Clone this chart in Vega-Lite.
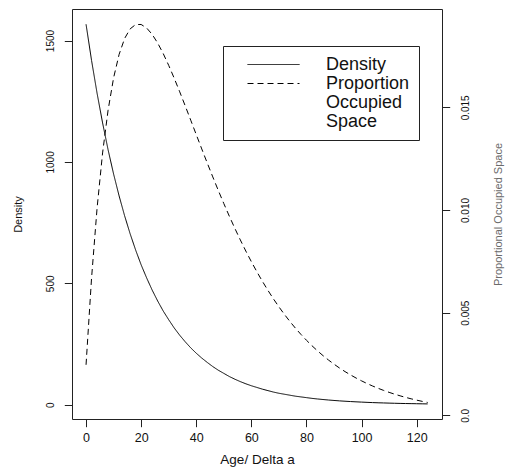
{
  "$schema": "https://vega.github.io/schema/vega-lite/v6.json",
  "width": 370,
  "height": 410,
  "autosize": {"type": "none"},
  "padding": {"left": 72, "top": 9, "right": 64, "bottom": 49},
  "background": "white",
  "config": {
    "font": "Liberation Sans",
    "view": {"stroke": "#222", "strokeWidth": 1},
    "axis": {"grid": false, "domain": false, "tickColor": "#222", "tickSize": 7.7, "tickWidth": 1, "labelColor": "#111", "titleColor": "#111", "titleFontWeight": "normal", "labelFlush": false, "labelOverlap": false},
    "style": {"guide-label": {"lineHeight": 19}}
  },
  "data": {"values": [
    {"age": 0, "density": 1567, "prop": 0.00246},
    {"age": 2, "density": 1418, "prop": 0.006689},
    {"age": 4, "density": 1283, "prop": 0.010087},
    {"age": 6, "density": 1161, "prop": 0.012778},
    {"age": 8, "density": 1050, "prop": 0.014865},
    {"age": 10, "density": 950, "prop": 0.016439},
    {"age": 12, "density": 860, "prop": 0.01758},
    {"age": 14, "density": 778, "prop": 0.018354},
    {"age": 16, "density": 704, "prop": 0.018821},
    {"age": 18, "density": 637, "prop": 0.019034},
    {"age": 20, "density": 576, "prop": 0.019036},
    {"age": 22, "density": 522, "prop": 0.018864},
    {"age": 24, "density": 472, "prop": 0.018554},
    {"age": 26, "density": 427, "prop": 0.018131},
    {"age": 28, "density": 386, "prop": 0.017621},
    {"age": 30, "density": 350, "prop": 0.017044},
    {"age": 32, "density": 316, "prop": 0.016417},
    {"age": 34, "density": 286, "prop": 0.015755},
    {"age": 36, "density": 259, "prop": 0.01507},
    {"age": 38, "density": 234, "prop": 0.014373},
    {"age": 40, "density": 212, "prop": 0.013672},
    {"age": 42, "density": 192, "prop": 0.012974},
    {"age": 44, "density": 174, "prop": 0.012286},
    {"age": 46, "density": 157, "prop": 0.011611},
    {"age": 48, "density": 142, "prop": 0.010953},
    {"age": 50, "density": 129, "prop": 0.010315},
    {"age": 52, "density": 116, "prop": 0.0097},
    {"age": 54, "density": 105, "prop": 0.009108},
    {"age": 56, "density": 95, "prop": 0.008541},
    {"age": 58, "density": 86, "prop": 0.007999},
    {"age": 60, "density": 78, "prop": 0.007483},
    {"age": 62, "density": 71, "prop": 0.006993},
    {"age": 64, "density": 64, "prop": 0.006528},
    {"age": 66, "density": 58, "prop": 0.006089},
    {"age": 68, "density": 52, "prop": 0.005674},
    {"age": 70, "density": 47, "prop": 0.005283},
    {"age": 72, "density": 43, "prop": 0.004915},
    {"age": 74, "density": 39, "prop": 0.004569},
    {"age": 76, "density": 35, "prop": 0.004244},
    {"age": 78, "density": 32, "prop": 0.00394},
    {"age": 80, "density": 29, "prop": 0.003656},
    {"age": 82, "density": 26, "prop": 0.003389},
    {"age": 84, "density": 23.5, "prop": 0.003141},
    {"age": 86, "density": 21.3, "prop": 0.002909},
    {"age": 88, "density": 19.2, "prop": 0.002692},
    {"age": 90, "density": 17.4, "prop": 0.002491},
    {"age": 92, "density": 15.7, "prop": 0.002303},
    {"age": 94, "density": 14.2, "prop": 0.002129},
    {"age": 96, "density": 12.9, "prop": 0.001967},
    {"age": 98, "density": 11.7, "prop": 0.001817},
    {"age": 100, "density": 10.6, "prop": 0.001677},
    {"age": 102, "density": 9.6, "prop": 0.001547},
    {"age": 104, "density": 8.6, "prop": 0.001427},
    {"age": 106, "density": 7.8, "prop": 0.001316},
    {"age": 108, "density": 7.1, "prop": 0.001213},
    {"age": 110, "density": 6.4, "prop": 0.001118},
    {"age": 112, "density": 5.8, "prop": 0.00103},
    {"age": 114, "density": 5.2, "prop": 0.000948},
    {"age": 116, "density": 4.7, "prop": 0.000873},
    {"age": 118, "density": 4.3, "prop": 0.000803},
    {"age": 120, "density": 3.9, "prop": 0.000739},
    {"age": 122, "density": 3.5, "prop": 0.00068},
    {"age": 124, "density": 3.2, "prop": 0.000625}
  ]},
  "encoding": {
    "x": {
      "field": "age", "type": "quantitative",
      "scale": {"domain": [-5.1, 129.2], "nice": false, "zero": false},
      "axis": {"values": [0, 20, 40, 60, 80, 100, 120], "format": "d", "title": "Age/ Delta a", "labelPadding": 5, "labelFontSize": 12.5, "titleFontSize": 13.5, "titleY": 44.5, "titleBaseline": "alphabetic"}
    }
  },
  "layer": [
    {
      "mark": {"type": "line", "color": "black", "strokeWidth": 1},
      "encoding": {
        "y": {
          "field": "density", "type": "quantitative",
          "scale": {"domain": [-59, 1630], "nice": false, "zero": false},
          "axis": {"orient": "left", "values": [0, 500, 1000, 1500], "format": "d", "title": "Density", "labelAngle": 270, "labelAlign": "center", "labelBaseline": "bottom", "labelPadding": 9, "labelFontSize": 10, "titleAngle": 270, "titleX": -53.5, "titleY": 205, "titleAlign": "center", "titleBaseline": "middle", "titleFontSize": 11}
        },
        "strokeDash": {
          "datum": "Density", "type": "nominal",
          "scale": {"domain": ["Density", "Proportion Occupied Space"], "range": [[1, 0], [6, 4]]},
          "legend": {
            "title": null, "orient": "none", "legendX": 151, "legendY": 37,
            "padding": 9, "strokeColor": "#222", "fillColor": "white",
            "symbolType": "stroke", "symbolSize": 2704, "symbolStrokeWidth": 1, "symbolStrokeColor": "black",
            "symbolOffset": 15, "labelOffset": 26, "clipHeight": 19, "rowPadding": 0,
            "labelFontSize": 18, "labelColor": "#111", "labelLimit": 400, "labelBaseline": "middle",
            "labelExpr": "datum.label == 'Proportion Occupied Space' ? ['Proportion\u00a0\u00a0\u00a0', 'Occupied', 'Space'] : datum.label"
          }
        }
      }
    },
    {
      "mark": {"type": "line", "color": "black", "strokeWidth": 1},
      "encoding": {
        "y": {
          "field": "prop", "type": "quantitative",
          "scale": {"domain": [-0.00018, 0.01979], "nice": false, "zero": false},
          "axis": {"orient": "right", "values": [0, 0.005, 0.01, 0.015], "labelExpr": "datum.value == 0 ? '0.0' : format(datum.value, '.3f')", "title": "Proportional Occupied Space", "labelAngle": 270, "labelAlign": "center", "labelBaseline": "top", "labelPadding": 10.5, "labelFontSize": 10, "titleAngle": 270, "titleX": 56, "titleY": 205, "titleAlign": "center", "titleBaseline": "middle", "titleFontSize": 11, "titleColor": "#6a6a6a"}
        },
        "strokeDash": {"datum": "Proportion Occupied Space", "type": "nominal"}
      }
    }
  ],
  "resolve": {"scale": {"y": "independent"}}
}
